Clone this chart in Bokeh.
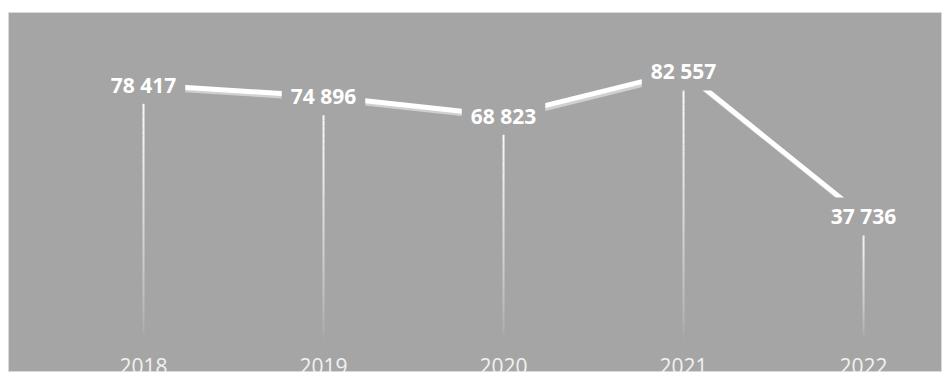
from bokeh.plotting import figure
from bokeh.models import ColumnDataSource, Range1d
from bokeh.core.properties import value
from bokeh.embed import file_html
from bokeh.resources import INLINE

years = [2018, 2019, 2020, 2021, 2022]
totals = [78417, 74896, 68823, 82557, 37736]
labels = ["78 417", "74 896", "68 823", "82 557", "37 736"]
year_labels = ["2018", "2019", "2020", "2021", "2022"]

BG = "#a5a5a5"
W, H = 942, 372
LEFT, TOP, RIGHT = 8, 12, 1

x0, x1 = 2017.25, 2022.433
y0, y1 = -10510, 100770

p = figure(width=W, height=H, output_backend="svg", toolbar_location=None,
           x_range=Range1d(x0, x1), y_range=Range1d(y0, y1),
           min_border_left=LEFT, min_border_top=TOP, min_border_right=RIGHT,
           min_border_bottom=0)
p.axis.visible = False
p.grid.visible = False
p.background_fill_color = BG
p.border_fill_color = "white"
p.outline_line_color = "#d9d9d9"
p.outline_line_width = 1

# shadow ranges (offset by a few pixels down/right)
ppx = (x1 - x0) / (W - LEFT - RIGHT)
ppy = (y1 - y0) / (H - TOP)
p.extra_x_ranges = {"sh": Range1d(x0 - 2 * ppx, x1 - 2 * ppx)}
p.extra_y_ranges = {"sh": Range1d(y0 + 3 * ppy, y1 + 3 * ppy)}

src = ColumnDataSource(dict(x=years, y=totals, lab=labels, yl=year_labels,
                            zero=[0] * len(years)))

# drop lines with fading gradient
N = 40
xs, ya, yb, al = [], [], [], []
for x, v in zip(years, totals):
    for i in range(N):
        a = v * (1 - i / N)
        b = v * (1 - (i + 1) / N)
        xs.append(x); ya.append(a); yb.append(b)
        al.append(max(0.0, 1 - (i + 0.5) / N) ** 0.7)
p.segment(x0=xs, y0=ya, x1=xs, y1=yb, line_color="white", line_alpha=al,
          line_width=2)

# line shadow and line
p.line("x", "y", source=src, line_color="#d0d0d0", line_width=4,
       x_range_name="sh", y_range_name="sh")
p.line("x", "y", source=src, line_color="white", line_width=5)

# data labels with background boxes that hide the line behind them
p.text("x", "y", text="lab", source=src, text_align="center",
       text_baseline="middle", text_color="white",
       text_font=value("Open Sans"), text_font_style="bold",
       text_font_size="21px", background_fill_color=BG,
       padding=dict(left=9, right=9, top=5, bottom=5))

# category labels at the bottom (partially cut off, as in the reference)
p.text("x", "zero", text="yl", source=src, text_align="center",
       text_baseline="middle", text_color="#f2f2f2", y_offset=28,
       text_font=value("Open Sans"), text_font_size="21px")

open("out.html", "w").write(file_html(p, INLINE))
